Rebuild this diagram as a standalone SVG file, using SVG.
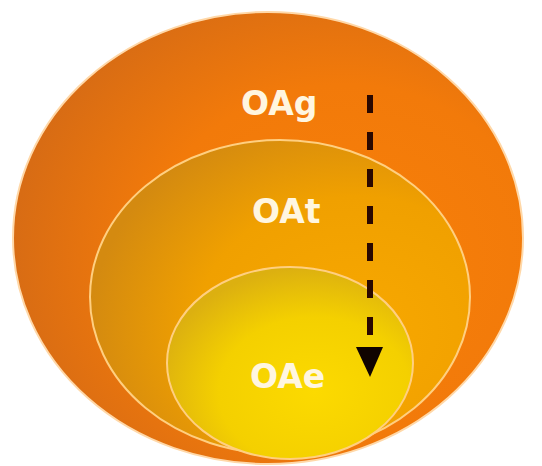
<svg xmlns="http://www.w3.org/2000/svg" width="542" height="466" viewBox="0 0 542 466">
<style>
.lbl{font-family:"DejaVu Sans","Verdana",sans-serif;font-weight:bold;font-size:33px;fill:#fff6e0;}
.ring{stroke:#ffcf80;stroke-width:2;}
.conn{stroke:#2a0800;stroke-width:6;stroke-dasharray:18 19;fill:none;}
</style>
<defs>
<radialGradient id="gOuter" cx="0.65" cy="0.55" r="0.65">
<stop offset="0" stop-color="#f88008"/>
<stop offset="0.6" stop-color="#f27a0a"/>
<stop offset="1" stop-color="#d86c14"/>
</radialGradient>
<radialGradient id="gMid" cx="0.7" cy="0.6" r="0.7">
<stop offset="0" stop-color="#f8a800"/>
<stop offset="0.6" stop-color="#f0a000"/>
<stop offset="1" stop-color="#d48a10"/>
</radialGradient>
<radialGradient id="gIn" cx="0.6" cy="0.65" r="0.65">
<stop offset="0" stop-color="#fcda00"/>
<stop offset="0.6" stop-color="#f4d000"/>
<stop offset="1" stop-color="#dcb010"/>
</radialGradient>
</defs>
<rect width="542" height="466" fill="#ffffff"/>
<g id="node-OAg">
<ellipse cx="268" cy="238" rx="255" ry="226" fill="url(#gOuter)" stroke="#ffd8a8" stroke-width="2"/>
<text class="lbl" x="241" y="115">OAg</text>
</g>
<g id="node-OAt">
<ellipse cx="280" cy="297" rx="190" ry="157" fill="url(#gMid)" class="ring"/>
<text class="lbl" x="252" y="223">OAt</text>
</g>
<g id="node-OAe">
<ellipse cx="290" cy="363" rx="123" ry="96" fill="url(#gIn)" class="ring"/>
<text class="lbl" x="250" y="388">OAe</text>
</g>
<g id="connectors">
<line class="conn" x1="370" y1="95" x2="370" y2="336"/>
<path d="M356,347 L383,347 L370,377 Z" fill="#100400"/>
</g>
</svg>
